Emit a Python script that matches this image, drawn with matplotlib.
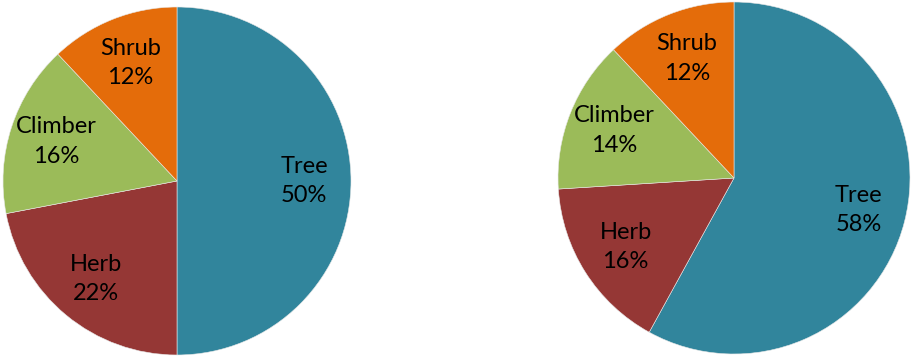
import matplotlib.pyplot as plt

categories = ['Tree', 'Herb', 'Climber', 'Shrub']
share_left = [50, 22, 16, 12]
share_right = [58, 16, 14, 12]
colors = ['#31859C', '#953735', '#9BBB59', '#E46C0A']

plt.rcParams['font.family'] = ['Lato', 'DejaVu Sans']

fig = plt.figure(figsize=(9.11, 3.56), dpi=100)

# axes boxes in figure fractions: [left, bottom, width, height]
boxes = [[3 / 911, 1 / 356, 348 / 911, 348 / 356],
         [558 / 911, 2 / 356, 352 / 911, 352 / 356]]

for box, shares in zip(boxes, [share_left, share_right]):
    ax = fig.add_axes(box)
    labels = [f'{c}\n{v}%' for c, v in zip(categories, shares)]
    wedges, texts = ax.pie(shares, labels=labels, colors=colors,
                           startangle=90, counterclock=False,
                           labeldistance=0.73, radius=1,
                           wedgeprops=dict(linewidth=0.4, edgecolor='#e8e8e8'),
                           textprops=dict(fontsize=17, ha='center', va='center',
                                          linespacing=1.5))
    ax.set_xlim(-1, 1)
    ax.set_ylim(-1, 1)
    ax.set_aspect('equal')
    ax.axis('off')

fig.savefig('out.png', dpi=100)
